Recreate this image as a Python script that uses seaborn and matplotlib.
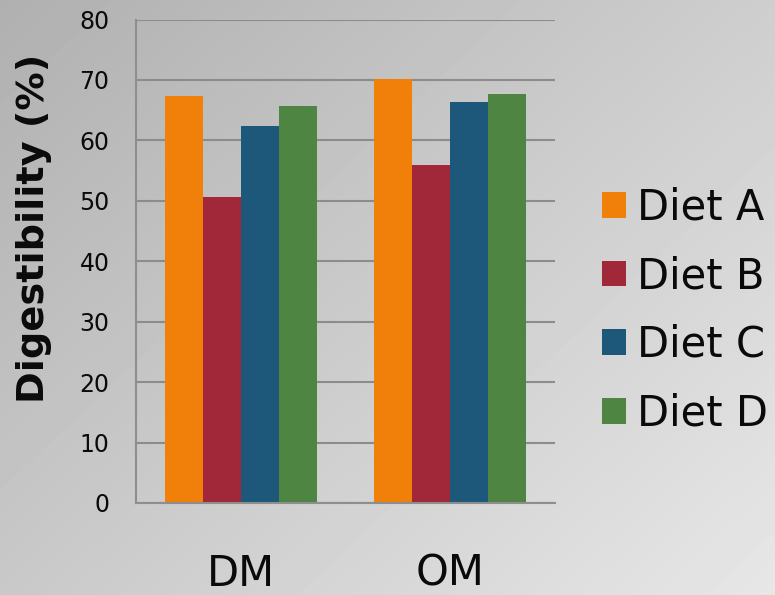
import numpy as np
import pandas as pd
import matplotlib
matplotlib.use("Agg")
import matplotlib.pyplot as plt
import seaborn as sns

# Digestibility of dry matter (DM) and organic matter (OM) by diet
fractions = ["DM", "OM"]
diets = ["Diet A", "Diet B", "Diet C", "Diet D"]
dm_values = [67.4, 50.7, 62.4, 65.7]
om_values = [70.2, 56.0, 66.3, 67.7]
diet_colors = ["#F0800A", "#A12838", "#1D587B", "#4E8542"]
y_ticks = [0, 10, 20, 30, 40, 50, 60, 70, 80]

df = pd.DataFrame({
    "fraction": [f for f in fractions for _ in diets],
    "diet": diets * len(fractions),
    "value": dm_values + om_values,
})

sns.set_style("white")
plt.rcParams["font.family"] = ["DejaVu Sans"]
plt.rcParams["text.color"] = "#0a0a0a"

W, H = 775, 595
fig = plt.figure(figsize=(W / 100, H / 100), dpi=100)

# diagonal grey gradient background
bg = fig.add_axes([0, 0, 1, 1], zorder=-10)
yy, xx = np.mgrid[0:H, 0:W]
t = (xx / W * 0.55 + yy / H * 0.45)
grad = 0.69 + (0.905 - 0.69) * t
bg.imshow(grad, cmap="gray", vmin=0, vmax=1, aspect="auto", extent=[0, 1, 0, 1])
bg.set_axis_off()

ax = fig.add_axes([136 / W, 1 - 503 / H, (555 - 136) / W, (503 - 19.5) / H])
ax.patch.set_alpha(0)

sns.barplot(data=df, x="fraction", y="value", hue="diet", hue_order=diets,
            palette=diet_colors, saturation=1, width=0.726, gap=0,
            linewidth=0, ax=ax)

ax.set_ylim(0, 80)
ax.set_yticks(y_ticks)
ax.set_xlim(-0.5, 1.5)
ax.set_axisbelow(True)
ax.yaxis.grid(True, color="#8c8c8c", linewidth=1.5)
ax.xaxis.grid(False)
for s in ["top", "right"]:
    ax.spines[s].set_visible(False)
for s in ["left", "bottom"]:
    ax.spines[s].set_color("#8e8e8e")
    ax.spines[s].set_linewidth(1.5)

ax.tick_params(axis="y", length=0, pad=19, labelsize=17, labelcolor="#0a0a0a")
ax.tick_params(axis="x", length=0, pad=36, labelsize=30, labelcolor="#0a0a0a")
ax.set_xlabel("")
ax.set_ylabel("Digestibility (%)", fontsize=27.5, fontweight="bold",
              color="#0a0a0a", va="center")
ax.yaxis.set_label_coords(-0.243, 0.567)

handles, labels = ax.get_legend_handles_labels()
ax.get_legend().remove()
leg = fig.legend(handles, labels, loc="center left",
                 bbox_to_anchor=(602 / W, 1 - 310.5 / H), frameon=False,
                 fontsize=30, handlelength=0.57, handleheight=0.57,
                 handletextpad=0.28, labelspacing=0.64, borderpad=0,
                 borderaxespad=0)
for txt in leg.get_texts():
    txt.set_color("#0a0a0a")

fig.savefig("out.png", dpi=100)
